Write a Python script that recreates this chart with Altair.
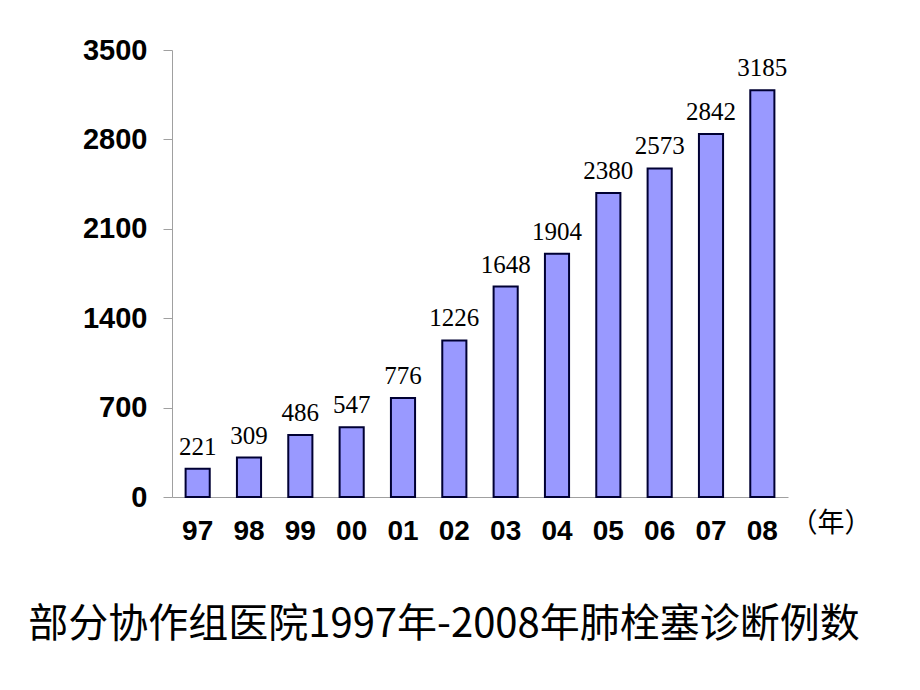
import altair as alt
import pandas as pd

years = ["97", "98", "99", "00", "01", "02", "03", "04", "05", "06", "07", "08"]
cases = [221, 309, 486, 547, 776, 1226, 1648, 1904, 2380, 2573, 2842, 3185]
y_ticks = [0, 700, 1400, 2100, 2800, 3500]
title_text = "部分协作组医院1997年-2008年肺栓塞诊断例数"
x_unit = "（年）"

df = pd.DataFrame({"year": years, "cases": cases})

x_enc = alt.X(
    "year:N",
    sort=years,
    scale=alt.Scale(paddingInner=0.53, paddingOuter=0.265),
    axis=alt.Axis(
        title=x_unit,
        titleFont="Noto Sans CJK SC",
        titleFontSize=27,
        titleFontWeight="normal",
        titleColor="black",
        titleAngle=0,
        titleX=618,
        titleY=26,
        titleAlign="left",
        titleBaseline="middle",
        labelAngle=0,
        labelFont="Liberation Sans",
        labelFontWeight="bold",
        labelFontSize=28,
        labelColor="black",
        labelPadding=20,
        ticks=False,
        domainColor="#a0a0a0",
        domainWidth=1,
    ),
)
y_enc = alt.Y(
    "cases:Q",
    scale=alt.Scale(domain=[0, 3500], nice=False),
    axis=alt.Axis(
        title=None,
        values=y_ticks,
        format="d",
        grid=False,
        labelFont="Liberation Sans",
        labelFontWeight="bold",
        labelFontSize=29,
        labelColor="black",
        labelPadding=16,
        tickSize=9,
        tickColor="#a0a0a0",
        domainColor="#a0a0a0",
        domainWidth=1,
    ),
)

bars = alt.Chart(df).mark_bar(
    fill="#9999ff", stroke="#000033", strokeWidth=2
).encode(x=x_enc, y=y_enc)

labels = alt.Chart(df).mark_text(
    font="Liberation Serif", fontSize=25, color="black", baseline="bottom", dy=-9
).encode(x=alt.X("year:N", sort=years), y="cases:Q", text="cases:Q")

chart = (
    alt.layer(bars, labels)
    .properties(
        width=616,
        height=447,
        view=alt.ViewBackground(strokeWidth=0, stroke="white"),
        autosize=alt.AutoSizeParams(type="none"),
        padding={"left": 164, "top": 42, "right": 124, "bottom": 185},
        title=alt.TitleParams(
            text=title_text,
            orient="bottom",
            anchor="middle",
            dx=-36,
            offset=60,
            font="Noto Sans CJK SC",
            fontSize=40,
            fontWeight="normal",
            color="black",
        ),
    )
    .configure_view(strokeWidth=0, stroke="white")
    .configure(background="white")
)

chart.save("out.html", embed_options={"renderer": "svg", "actions": False})
